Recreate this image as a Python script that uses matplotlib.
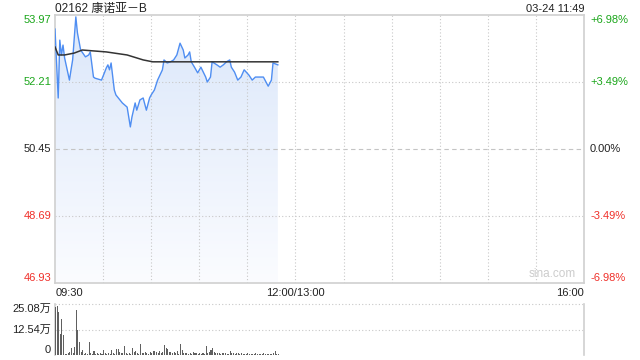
import matplotlib
matplotlib.use("Agg")
import matplotlib.pyplot as plt
import numpy as np
from matplotlib.colors import LinearSegmentedColormap

plt.rcParams['font.family'] = ['Liberation Sans', 'Noto Sans CJK SC', 'DejaVu Sans']

title = "02162 康诺亚－B"
stamp = "03-24 11:49"
prev_close = 50.45
price_ticks = [53.97, 52.21, 50.45, 48.69, 46.93]
price_labels = ["53.97", "52.21", "50.45", "48.69", "46.93"]
pct_labels = ["+6.98%", "+3.49%", "0.00%", "-3.49%", "-6.98%"]
time_labels = ["09:30", "12:00/13:00", "16:00"]
vol_ticks = [25.08, 12.54, 0]
vol_labels = ["25.08万", "12.54万", "0"]

# minutes after 09:30
price_t = [0, 2, 3, 4, 5, 6, 9, 10, 11, 13, 14, 16, 19, 21, 22, 24, 25, 29, 31, 32,
           33, 34, 35, 37, 38, 42, 45, 47, 48, 50, 51, 53, 55, 57, 59, 60, 62, 64, 67, 68,
           70, 72, 74, 76, 78, 80, 81, 83, 84, 85, 87, 89, 91, 94, 95, 97, 98, 101, 103, 105,
           107, 109, 110, 112, 114, 116, 118, 121, 123, 125, 128, 130, 132, 133, 135, 136, 139]
price = [53.60, 51.79, 53.31, 52.92, 53.18, 52.84, 52.26, 52.53, 52.79, 53.92, 53.50, 53.05,
         52.87, 52.92, 53.00, 52.34, 52.31, 52.26, 52.47, 52.58, 52.66, 52.53, 52.71, 52.00,
         51.87, 51.66, 51.55, 51.03, 51.29, 51.66, 51.47, 51.74, 51.79, 51.47, 51.79, 51.87,
         52.00, 52.26, 52.53, 52.79, 52.71, 52.74, 52.79, 52.92, 53.23, 53.05, 52.84, 52.92,
         53.00, 52.74, 52.60, 52.45, 52.60, 52.34, 52.21, 52.34, 52.74, 52.66, 52.60, 52.66,
         52.74, 52.79, 52.60, 52.47, 52.26, 52.34, 52.53, 52.39, 52.26, 52.34, 52.34, 52.34,
         52.18, 52.10, 52.26, 52.71, 52.66]
avg_t = [0, 2, 6, 12, 17, 32, 45, 55, 61, 139]
avg = [53.13, 52.92, 52.92, 52.97, 53.05, 53.00, 52.92, 52.79, 52.74, 52.74]

vol = [23.7, 24.2, 21.2, 10.1, 17.6, 9.8, 0.5, 0.3, 0.8, 1.6,
       3.2, 1.0, 4.0, 22.1, 12.2, 6.5, 1.6, 2.5, 0.4, 0.8,
       0.6, 6.5, 1.2, 0.5, 2.0, 0.4, 0.8, 0.3, 1.2, 0.6,
       2.5, 1.0, 0.3, 1.2, 0.5, 2.5, 1.0, 0.6, 3.0, 3.0,
       1.3, 0.8, 1.0, 4.5, 0.9, 0.5, 1.0, 0.6, 3.2, 1.5,
       1.8, 1.0, 0.5, 5.2, 1.0, 0.9, 1.5, 1.2, 0.5, 1.3,
       0.9, 1.8, 2.0, 1.5, 1.2, 2.2, 1.0, 1.5, 5.0, 3.5,
       3.0, 1.6, 1.4, 1.0, 1.3, 0.8, 1.8, 0.6, 5.2, 2.5,
       1.2, 0.8, 1.0, 0.5, 1.2, 0.3, 1.5, 0.8, 1.0, 0.6,
       1.2, 0.5, 0.8, 0.3, 4.5, 0.8, 1.5, 2.5, 3.5, 1.5,
       0.8, 1.2, 1.0, 0.3, 1.2, 0.8, 1.2, 0.6, 0.5, 2.0,
       1.2, 0.8, 0.3, 1.0, 0.8, 0.3, 1.2, 0.3, 0.5, 0.3,
       0.8, 0.5, 0.3, 0.6, 0.4, 0.8, 0.3, 0.5, 0.6, 0.4,
       0.8, 0.5, 0.3, 0.6, 0.4, 0.5, 0.8, 2.0, 0.4, 0.3]

green = "#1aa61a"
red = "#f0302a"
grid_c = "#c8c8c8"
border_c = "#d0d0d0"

fig = plt.figure(figsize=(6.4, 3.6), dpi=100)
ax = fig.add_axes([55/640, 1-283/360, 529/640, 268/360])
axv = fig.add_axes([55/640, 1-355/360, 529/640, 51/360])

ax.set_xlim(0, 330)
ax.set_ylim(price_ticks[-1], price_ticks[0])

# gradient fill under the price line
grad = LinearSegmentedColormap.from_list("g", ["#fbfcff", "#dbe7fa"])
img = ax.imshow(np.linspace(0, 1, 256).reshape(-1, 1), cmap=grad, aspect="auto",
                extent=[0, 330, price_ticks[-1], price_ticks[0]], origin="lower", zorder=1)
poly = ax.fill_between(price_t, price, price_ticks[-1], color="none", lw=0)
img.set_clip_path(poly.get_paths()[0], transform=ax.transData)

for y in price_ticks[1:-1]:
    if y == prev_close:
        ax.axhline(y, color="#c4c4c4", lw=0.8, ls=(0, (4, 3)), zorder=2)
    else:
        ax.axhline(y, color=grid_c, lw=0.8, ls=(0, (1, 2)), zorder=2)
for x in range(30, 330, 30):
    ax.axvline(x, color=grid_c, lw=0.8, ls=(0, (1, 2)), zorder=2)

ax.plot(price_t, price, color="#4f8ef2", lw=1.0, zorder=4)
ax.plot(avg_t, avg, color="#333333", lw=1.1, zorder=5)

for s in ax.spines.values():
    s.set_color(border_c)
    s.set_linewidth(1.2)
ax.set_xticks([])
ax.set_yticks([])

fs = 8
for i, (y, lab, pl) in enumerate(zip(price_ticks, price_labels, pct_labels)):
    c = green if y > prev_close else (red if y < prev_close else "#222222")
    va = "top" if i == 0 else ("bottom" if i == len(price_ticks)-1 else "center")
    ax.text(-4/529, y, lab, ha="right", va=va, color=c, fontsize=fs,
            transform=ax.get_yaxis_transform())
    ax.text(1+6/529, y, pl, ha="left", va=va, color=c, fontsize=fs,
            transform=ax.get_yaxis_transform())

ax.text(0.002, -0.02, time_labels[0], transform=ax.transAxes, ha="left", va="top", fontsize=fs, color="#222222")
ax.text(150/330, -0.02, time_labels[1], transform=ax.transAxes, ha="center", va="top", fontsize=fs, color="#222222")
ax.text(1.0, -0.02, time_labels[2], transform=ax.transAxes, ha="right", va="top", fontsize=fs, color="#222222")
ax.text(0.0, 1 + 3/268, title, transform=ax.transAxes, ha="left", va="baseline", fontsize=8.6, color="#222222")
ax.text(1.0, 1 + 3/268, stamp, transform=ax.transAxes, ha="right", va="baseline", fontsize=fs, color="#222222")
ax.text(0.985, 0.012, "sina.com", transform=ax.transAxes, ha="right", va="bottom", fontsize=8.5, color="#cccccc")

# volume panel
axv.set_xlim(0, 330)
axv.set_ylim(0, vol_ticks[0])
axv.bar(range(len(vol)), vol, width=0.65, color="#606060", align="edge", zorder=3)
for y in vol_ticks[:2]:
    axv.axhline(y, color=grid_c, lw=0.8, ls=(0, (1, 2)), zorder=2, clip_on=False)
for k in ["top", "bottom"]:
    axv.spines[k].set_visible(False)
for k in ["left", "right"]:
    axv.spines[k].set_color(border_c)
    axv.spines[k].set_linewidth(1.2)
axv.set_xticks([])
axv.set_yticks([])
for i, (y, lab) in enumerate(zip(vol_ticks, vol_labels)):
    va = "top" if i == 0 else ("bottom" if i == len(vol_ticks)-1 else "center")
    axv.text(-4/529, y, lab, ha="right", va=va, fontsize=fs, color="#222222",
             transform=axv.get_yaxis_transform())

fig.savefig("out.png", dpi=100)
